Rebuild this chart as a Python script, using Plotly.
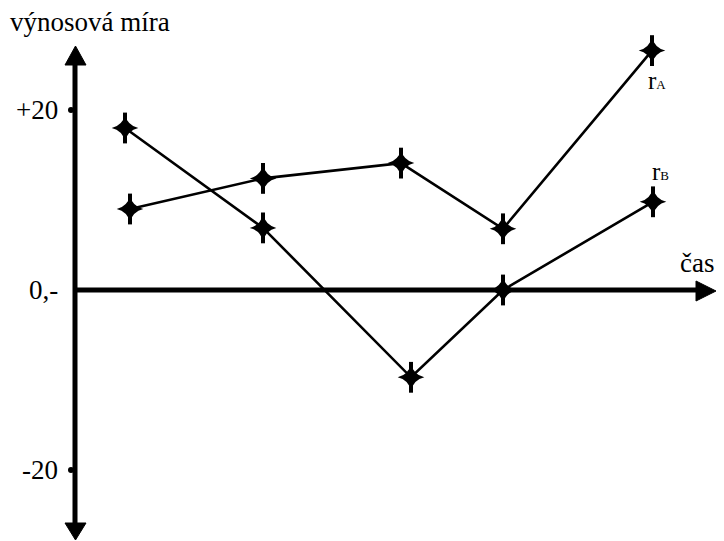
import plotly.graph_objects as go

# ---- data ----
time_A = [0.55, 1.88, 3.26, 4.28, 5.77]
r_A = [9.0, 12.4, 14.1, 6.8, 26.6]
time_B = [0.50, 1.88, 3.36, 4.28, 5.78]
r_B = [18.0, 6.9, -9.7, 0.0, 9.8]
tick_vals = [20, 0, -20]
tick_text = ["+20", "0,-", "-20"]
series_labels = ["r<span style='font-size:13px'>A</span>", "r<span style='font-size:13px'>B</span>"]

OFF = 8                          # page body margin
W, H = 724 - 2 * OFF, 541 - OFF
X0_PX, XSCALE = 75 - OFF, 100.0  # pixel of t=0, pixels per time unit
Y0_PX, YSCALE = 290 - OFF, 9.0   # pixel of r=0, pixels per percent

def xd(px):
    return (px - OFF - X0_PX) / XSCALE

def yd(py):
    return (Y0_PX - (py - OFF)) / YSCALE

x_range = [(0 - X0_PX) / XSCALE, (W - X0_PX) / XSCALE]
y_range = [(Y0_PX - H) / YSCALE, Y0_PX / YSCALE]

FONT = "Liberation Serif, Times New Roman, serif"
fig = go.Figure()

# axes lines
fig.add_trace(go.Scatter(x=[0, 0], y=[yd(62), yd(526)], mode="lines",
                         line=dict(color="black", width=5), hoverinfo="skip"))
fig.add_trace(go.Scatter(x=[0, xd(700)], y=[0, 0], mode="lines",
                         line=dict(color="black", width=5), hoverinfo="skip"))
# arrow heads
for xs, ys in [
    ([xd(65), xd(75.5), xd(86), xd(65)], [yd(65), yd(46), yd(65), yd(65)]),
    ([xd(65), xd(75.5), xd(86), xd(65)], [yd(523), yd(540), yd(523), yd(523)]),
    ([xd(696), xd(716), xd(696), xd(696)], [yd(281), yd(291), yd(301), yd(281)]),
]:
    fig.add_trace(go.Scatter(x=xs, y=ys, mode="lines", fill="toself",
                             fillcolor="black", line=dict(color="black", width=1),
                             hoverinfo="skip"))

# tick dots
fig.add_trace(go.Scatter(x=[xd(71), xd(71)], y=[20, -20], mode="markers",
                         marker=dict(color="black", size=6), hoverinfo="skip"))

# series
for t, r in [(time_A, r_A), (time_B, r_B)]:
    fig.add_trace(go.Scatter(x=t, y=r, mode="lines",
                             line=dict(color="black", width=2.6), hoverinfo="skip"))
    fig.add_trace(go.Scatter(x=t, y=r, mode="markers",
                             marker=dict(symbol="star-diamond", size=19, color="black",
                                         line=dict(width=0)), hoverinfo="skip"))
    fig.add_trace(go.Scatter(x=t, y=r, mode="markers",
                             marker=dict(symbol="line-ns", size=22,
                                         line=dict(width=4, color="black")), hoverinfo="skip"))

annotations = []
# y tick labels
for v, txt in zip(tick_vals, tick_text):
    annotations.append(dict(x=xd(60), y=v, text=txt, showarrow=False, xanchor="right",
                            yanchor="middle", font=dict(family=FONT, size=27, color="black")))
annotations.append(dict(x=0, xref="paper", y=yd(22), text="výnosová míra", showarrow=False,
                        xanchor="left", yanchor="middle",
                        font=dict(family=FONT, size=27, color="black")))
annotations.append(dict(x=1, xref="paper", y=yd(263), text="čas", showarrow=False,
                        xanchor="right", yanchor="middle",
                        font=dict(family=FONT, size=27, color="black")))
annotations.append(dict(x=xd(646), y=yd(80), text=series_labels[0], showarrow=False,
                        xanchor="left", yanchor="middle",
                        font=dict(family=FONT, size=25, color="black")))
annotations.append(dict(x=xd(650), y=yd(171), text=series_labels[1], showarrow=False,
                        xanchor="left", yanchor="middle",
                        font=dict(family=FONT, size=25, color="black")))

fig.update_layout(
    width=W, height=H,
    margin=dict(l=0, r=0, t=0, b=0),
    paper_bgcolor="white", plot_bgcolor="white",
    showlegend=False,
    xaxis=dict(range=x_range, visible=False, fixedrange=True),
    yaxis=dict(range=y_range, visible=False, fixedrange=True),
    annotations=annotations,
)
fig.write_html("out.html")
